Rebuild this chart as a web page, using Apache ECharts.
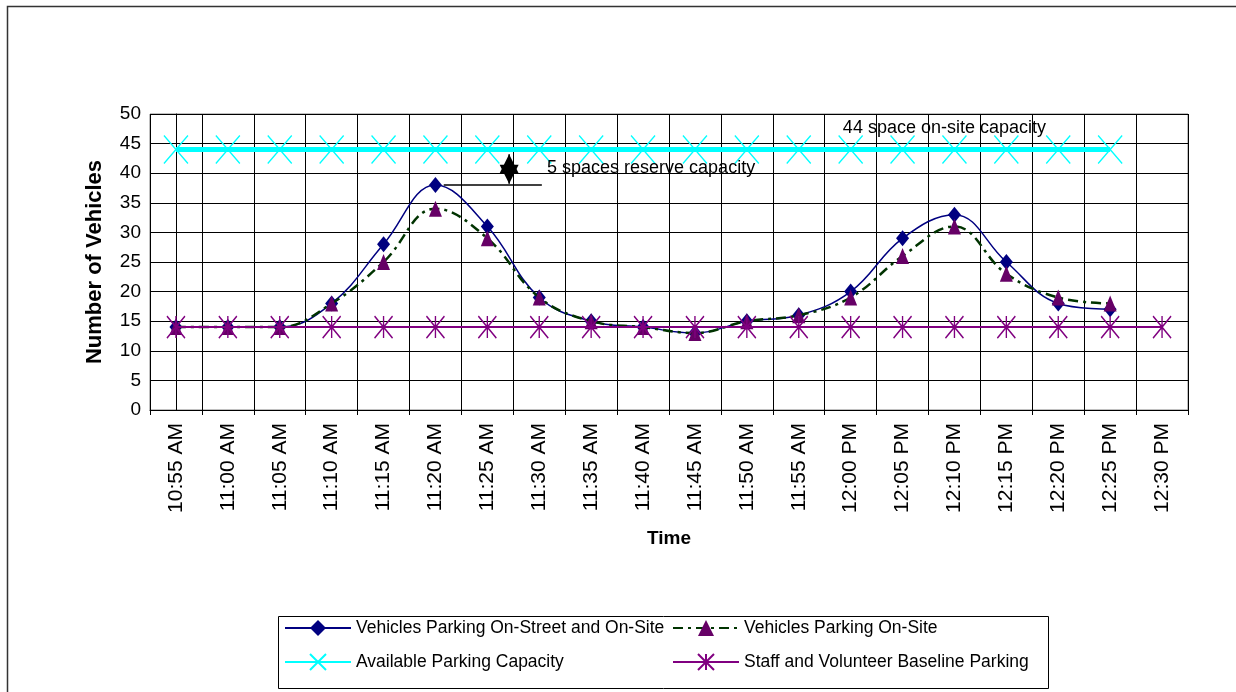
<!DOCTYPE html>
<html>
<head>
<meta charset="utf-8">
<script src="https://cdn.jsdelivr.net/npm/echarts@6/dist/echarts.min.js"></script>
<style>
  html, body { margin: 0; padding: 0; background: #fff; }
  #chart { width: 1236px; height: 692px; }
</style>
</head>
<body>
<div id="chart"></div>
<script>
// Time slots along the x axis
const times = ['10:55 AM', '11:00 AM', '11:05 AM', '11:10 AM', '11:15 AM', '11:20 AM', '11:25 AM',
  '11:30 AM', '11:35 AM', '11:40 AM', '11:45 AM', '11:50 AM', '11:55 AM', '12:00 PM',
  '12:05 PM', '12:10 PM', '12:15 PM', '12:20 PM', '12:25 PM', '12:30 PM'];

// Observed vehicle counts
const onStreetAndOnSite = [14, 14, 14, 18, 28, 38, 31, 19, 15, 14, 13, 15, 16, 20, 29, 33, 25, 18, 17, null];
const onSiteOnly = [14, 14, 14, 18, 25, 34, 29, 19, 15, 14, 13, 15, 16, 19, 26, 31, 23, 19, 18, null];
const availableCapacity = [44, 44, 44, 44, 44, 44, 44, 44, 44, 44, 44, 44, 44, 44, 44, 44, 44, 44, 44, null];
const staffBaseline = [14, 14, 14, 14, 14, 14, 14, 14, 14, 14, 14, 14, 14, 14, 14, 14, 14, 14, 14, 14];

// Reserve-capacity callout: [slot position, vehicles]
const reserveLeader = [[5.16, 38], [7.05, 38]];
const reserveArrowTips = [[6.42, 38.2], [6.42, 43.2]];
const calloutNotes = [
  { text: '44 space on-site capacity', at: [12.85, 47.6] },
  { text: '5 spaces reserve capacity', at: [7.15, 40.9] }
];

const seriesNames = [
  'Vehicles Parking On-Street and On-Site',
  'Vehicles Parking On-Site',
  'Available Parking Capacity',
  'Staff and Volunteer Baseline Parking'
];

const FONT = 'Liberation Sans, Arial, sans-serif';
const chart = echarts.init(document.getElementById('chart'), null, { renderer: 'canvas' });

const legendText = { fontFamily: FONT, fontSize: 17.5, color: '#000' };

chart.setOption({
  animation: false,
  backgroundColor: '#fff',
  grid: { left: 150, top: 114, right: 48, bottom: 282, show: true, borderColor: '#808080', borderWidth: 1 },
  legend: [
    {
      left: 284, top: 619, padding: 0, orient: 'vertical', itemWidth: 66, itemHeight: 20, itemGap: 16,
      textStyle: legendText, data: [seriesNames[0], seriesNames[2]], selectedMode: false
    },
    {
      left: 672, top: 619, padding: 0, orient: 'vertical', itemWidth: 66, itemHeight: 20, itemGap: 16,
      textStyle: legendText, data: [seriesNames[1], seriesNames[3]], selectedMode: false
    }
  ],
  xAxis: [
    {
      type: 'category',
      data: times,
      boundaryGap: true,
      name: 'Time',
      nameLocation: 'middle',
      nameGap: 119,
      nameTextStyle: { fontFamily: FONT, fontSize: 19, fontWeight: 'bold', color: '#000' },
      axisLine: { lineStyle: { color: '#000', width: 1 } },
      axisTick: { show: true, length: 5, lineStyle: { color: '#000' } },
      axisLabel: { rotate: 90, margin: 13, fontFamily: FONT, fontSize: 21, color: '#000', interval: 0 },
      splitLine: { show: true, interval: 0, lineStyle: { color: '#000', width: 1 } }
    },
    { type: 'value', min: -0.5, max: 19.5, show: false }
  ],
  yAxis: {
    type: 'value',
    min: 0, max: 50, interval: 5,
    name: 'Number of Vehicles',
    nameLocation: 'middle',
    nameRotate: 90,
    nameGap: 44,
    nameTextStyle: { fontFamily: FONT, fontSize: 22, fontWeight: 'bold', color: '#000' },
    axisLine: { show: true, lineStyle: { color: '#000', width: 1 } },
    axisTick: { show: true, length: 5, lineStyle: { color: '#000' } },
    axisLabel: { margin: 9, fontFamily: FONT, fontSize: 19, color: '#000' },
    splitLine: { show: true, lineStyle: { color: '#000', width: 1 } }
  },
  series: [
    {
      name: seriesNames[0], type: 'line', data: onStreetAndOnSite, smooth: 0.4,
      symbol: 'diamond', symbolSize: [13, 16], showAllSymbol: true,
      lineStyle: { color: '#000080', width: 1.5 },
      itemStyle: { color: '#000080' }, z: 4
    },
    {
      name: seriesNames[1], type: 'line', data: onSiteOnly, smooth: 0.4,
      symbol: 'triangle', symbolSize: [13, 16], showAllSymbol: true,
      lineStyle: { color: '#003300', width: 2.5, type: [10, 5, 3, 5] },
      itemStyle: { color: '#660066' }, z: 5
    },
    {
      name: seriesNames[2], type: 'line', data: availableCapacity,
      symbol: 'path://M0 0L24 28M24 0L0 28', symbolSize: [24, 28], showAllSymbol: true,
      lineStyle: { color: '#00ffff', width: 5 },
      itemStyle: { color: 'rgba(0,0,0,0)', borderColor: '#00ffff', borderWidth: 1.5 }, z: 3
    },
    {
      name: seriesNames[3], type: 'line', data: staffBaseline,
      symbol: 'path://M0 0L18 22M18 0L0 22M9 0L9 22', symbolSize: [18, 22], showAllSymbol: true,
      lineStyle: { color: '#800080', width: 2 },
      itemStyle: { color: 'rgba(0,0,0,0)', borderColor: '#800080', borderWidth: 1.5 }, z: 6
    },
    {
      name: 'reserve-leader', type: 'line', xAxisIndex: 1, data: reserveLeader,
      symbol: 'none', silent: true, lineStyle: { color: '#000', width: 1.5 }, z: 7
    },
    {
      name: 'reserve-arrow', type: 'line', xAxisIndex: 1, silent: true, z: 7,
      symbol: 'triangle', symbolSize: [19, 19], showAllSymbol: true,
      lineStyle: { color: '#000', width: 1.5 },
      itemStyle: { color: '#000' },
      data: [
        { value: reserveArrowTips[0], symbolRotate: 180, symbolOffset: [0, '-50%'] },
        { value: reserveArrowTips[1], symbolRotate: 0, symbolOffset: [0, '50%'] }
      ]
    }
  ]
});

// Frame, legend box and callout texts
const noteGraphics = calloutNotes.map(function (n) {
  const p = chart.convertToPixel({ xAxisIndex: 1, yAxisIndex: 0 }, n.at);
  return {
    type: 'text', x: p[0], y: p[1], silent: true, z: 20,
    style: { text: n.text, fill: '#000', font: '18px ' + FONT, textAlign: 'left', textVerticalAlign: 'middle' }
  };
});

chart.setOption({
  graphic: [
    { type: 'rect', shape: { x: 7.5, y: 6.5, width: 1300, height: 760 }, style: { fill: 'none', stroke: '#333', lineWidth: 1.5 }, silent: true },
    { type: 'rect', shape: { x: 278.5, y: 616.5, width: 770, height: 72 }, style: { fill: 'none', stroke: '#000', lineWidth: 1 }, silent: true }
  ].concat(noteGraphics)
});
</script>
</body>
</html>
